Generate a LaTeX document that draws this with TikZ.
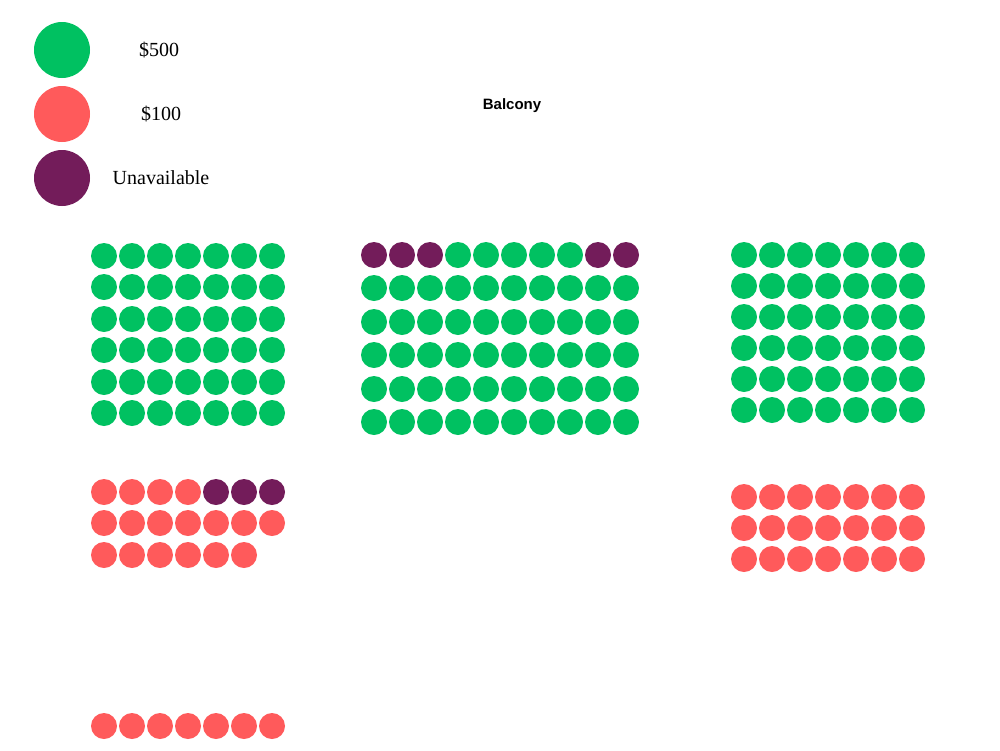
\documentclass[tikz,border=0pt]{standalone}
\usepackage{fontspec}
\setmainfont{Liberation Serif}
\newfontfamily\balfont{Liberation Sans}
\definecolor{sgreen}{HTML}{00C161}
\definecolor{sred}{HTML}{FF5A5B}
\definecolor{spurple}{HTML}{731C5A}
\begin{document}
\begin{tikzpicture}[x=1pt,y=-1pt,
  seat/.style={circle,inner sep=0pt,minimum size=26pt},
  leg/.style={circle,inner sep=0pt,minimum size=56pt},
  lbl/.style={font=\fontsize{20}{24}\selectfont}]
\useasboundingbox (0,0) rectangle (1000,750);
% legend
\node[leg,fill=sgreen] (l1) at (62,50) {};
\node[leg,fill=sred] (l2) at (62,114) {};
\node[leg,fill=spurple] (l3) at (62,178) {};
\node[lbl] (t1) at (159,50) {\$500};
\node[lbl] (t2) at (161,114) {\$100};
\node[lbl] (t3) at (161,178) {Unavailable};
\node[font=\balfont\bfseries\fontsize{15}{18}\selectfont] (bal) at (512,106) {Balcony};
% left green block
\foreach \r/\y in {1/256,2/287,3/319,4/350,5/382,6/413}
  \foreach \c in {0,...,6}
    \node[seat,fill=sgreen] (lg\r\c) at (104+28*\c,\y) {};
% middle block
\foreach \c in {0,...,9}{
  \ifnum\c<3 \def\col{spurple}\else\ifnum\c>7 \def\col{spurple}\else\def\col{sgreen}\fi\fi
  \node[seat,fill=\col] (m1\c) at (374+28*\c,255) {};}
\foreach \r/\y in {2/288,3/322,4/355,5/389,6/422}
  \foreach \c in {0,...,9}
    \node[seat,fill=sgreen] (m\r\c) at (374+28*\c,\y) {};
% right green block
\foreach \r/\y in {1/255,2/286,3/317,4/348,5/379,6/410}
  \foreach \c in {0,...,6}
    \node[seat,fill=sgreen] (rg\r\c) at (744+28*\c,\y) {};
% left red block
\foreach \c in {0,...,6}{
  \ifnum\c<4 \def\col{sred}\else\def\col{spurple}\fi
  \node[seat,fill=\col] (lr1\c) at (104+28*\c,492) {};}
\foreach \c in {0,...,6}
  \node[seat,fill=sred] (lr2\c) at (104+28*\c,523) {};
\foreach \c in {0,...,5}
  \node[seat,fill=sred] (lr3\c) at (104+28*\c,555) {};
% right red block
\foreach \r/\y in {1/497,2/528,3/559}
  \foreach \c in {0,...,6}
    \node[seat,fill=sred] (rr\r\c) at (744+28*\c,\y) {};
% bottom row
\foreach \c in {0,...,6}
  \node[seat,fill=sred] (b\c) at (104+28*\c,726) {};
\end{tikzpicture}
\end{document}
